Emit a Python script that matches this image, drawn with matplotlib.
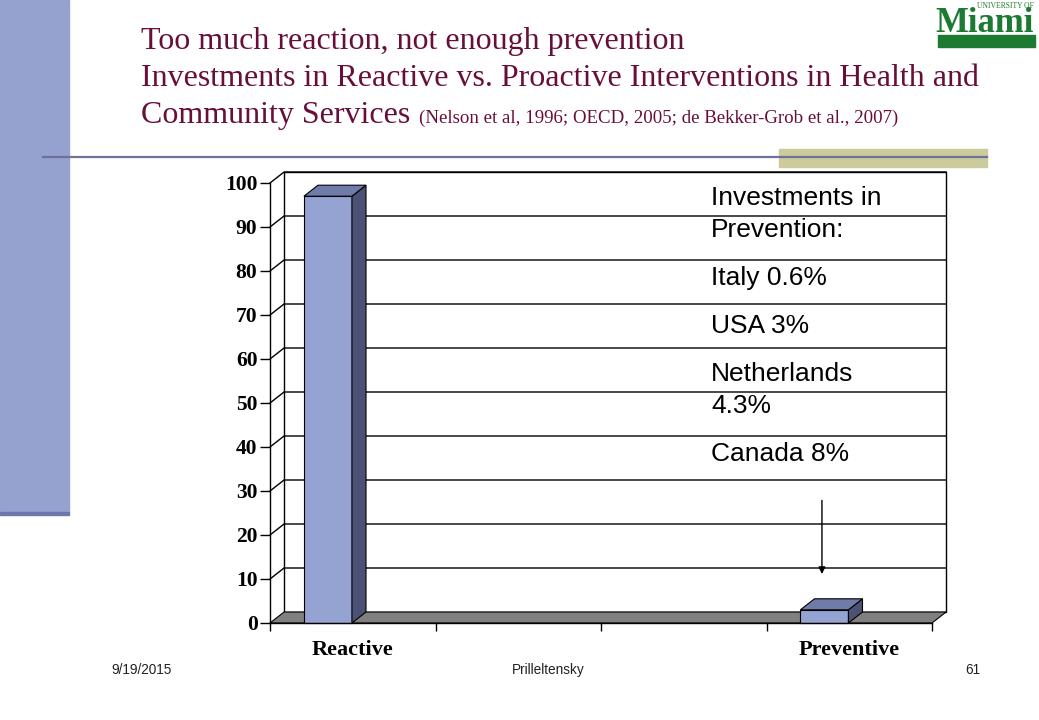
import matplotlib
matplotlib.use('Agg')
import matplotlib.pyplot as plt
from matplotlib.patches import Polygon, Rectangle
from matplotlib.lines import Line2D

# data
categories = ['Reactive', '', '', 'Preventive']
values = [97, None, None, 3]
y_ticks = [0, 10, 20, 30, 40, 50, 60, 70, 80, 90, 100]
notes = ['Investments in\nPrevention:', 'Italy 0.6%', 'USA 3%', 'Netherlands\n4.3%', 'Canada 8%']

title_lines = ['Too much reaction, not enough prevention',
               'Investments in Reactive vs. Proactive Interventions in Health and',
               'Community Services']
citation = '(Nelson et al, 1996; OECD, 2005; de Bekker-Grob et al., 2007)'
footer = ['9/19/2015', 'Prilleltensky', '61']

W, H = 1039, 720


def fx(x):
    return x / W


def fy(y):
    return 1 - y / H


fig = plt.figure(figsize=(W / 100, H / 100), dpi=100)
fig.patch.set_facecolor('white')
serif = 'Liberation Serif'
sans = 'Liberation Sans'

# slide decoration
fig.add_artist(Rectangle((0, fy(512)), fx(69), 512 / H, transform=fig.transFigure,
                         color='#95A2CF', zorder=0))
fig.add_artist(Rectangle((0, fy(515)), fx(69), 3 / H, transform=fig.transFigure,
                         color='#6D78A8', zorder=0))
fig.add_artist(Rectangle((fx(779), fy(167)), fx(987 - 779), 18 / H, transform=fig.transFigure,
                         color='#CBCB9B', zorder=0))
fig.add_artist(Line2D([fx(43), fx(987)], [fy(157), fy(157)], transform=fig.transFigure,
                      color='#6E7299', lw=1.6, zorder=1))

# logo
green = '#1D7A33'
fig.add_artist(Rectangle((fx(938), fy(47)), fx(97), 12 / H, transform=fig.transFigure,
                         color=green))
fig.text(fx(985), fy(32), 'Miami', fontsize=25, family=serif, fontweight='bold',
         color=green, ha='center', va='baseline')
fig.text(fx(1034), fy(8), 'UNIVERSITY OF', fontsize=5.5, family=serif,
         color=green, ha='right', va='baseline')

# title
title_color = '#680E3A'
ys = [49, 86, 123]
last = None
for line, y in zip(title_lines, ys):
    last = fig.text(fx(141), fy(y), line, fontsize=23, family=serif, color=title_color,
                    va='baseline')
renderer = fig.canvas.get_renderer()
bb = last.get_window_extent(renderer)
fig.text(bb.x1 / W + fx(9), fy(123), citation, fontsize=13.6, family=serif,
         color=title_color, va='baseline')

# chart
ax = fig.add_axes([fx(270), fy(623), fx(932 - 270), (623 - 183) / H])
ax.set_xlim(0, len(categories))
ax.set_ylim(0, 100)
ax.patch.set_visible(False)
for s in ['top', 'right']:
    ax.spines[s].set_visible(False)
for s in ['left', 'bottom']:
    ax.spines[s].set_linewidth(1)
    ax.spines[s].set_zorder(5)

dx, dy = 0.085, 2.5
n = len(categories)

# back wall and floor
ax.add_patch(Rectangle((dx, dy), n, 100, facecolor='white', edgecolor='black',
                       lw=1, clip_on=False, zorder=0.5))
ax.add_patch(Polygon([(0, 0), (n, 0), (n + dx, dy), (dx, dy)], closed=True,
                     facecolor='#808080', edgecolor='black', lw=0.8, clip_on=False, zorder=1))
for v in y_ticks[1:]:
    ax.plot([0, dx, n + dx], [v, v + dy, v + dy], color='black', lw=1,
            clip_on=False, zorder=1)

# 3d bars
bw = 0.29
off = 0.205
for i, v in enumerate(values):
    if v is None:
        continue
    x0 = i + off
    ax.add_patch(Rectangle((x0, 0), bw, v, facecolor='#95A3D2', edgecolor='black',
                           lw=0.8, zorder=3, clip_on=False))
    ax.add_patch(Polygon([(x0 + bw, 0), (x0 + bw + dx, dy), (x0 + bw + dx, v + dy), (x0 + bw, v)],
                         closed=True, facecolor='#4B5275', edgecolor='black', lw=0.8,
                         zorder=3, clip_on=False))
    ax.add_patch(Polygon([(x0, v), (x0 + bw, v), (x0 + bw + dx, v + dy), (x0 + dx, v + dy)],
                         closed=True, facecolor='#6F7BA8', edgecolor='black', lw=0.8,
                         zorder=3, clip_on=False))

# arrow pointing at preventive bar
pi = categories.index('Preventive')
bx = pi + off + bw / 2 - 0.015
ax.annotate('', xy=(bx, values[pi] + 7.5), xytext=(bx, values[pi] + 25.5),
            arrowprops=dict(arrowstyle='-|>', color='black', lw=1, mutation_scale=10),
            zorder=4)

ax.set_yticks(y_ticks)
ax.set_yticklabels([str(t) for t in y_ticks], family=serif, fontweight='bold', fontsize=15.5)
ax.tick_params(axis='y', length=7, width=1, pad=2)
ax.set_xticks(range(n + 1))
ax.set_xticklabels([''] * (n + 1))
ax.tick_params(axis='x', which='major', length=6, width=1)
ax.set_xticks([i + 0.5 for i in range(n)], minor=True)
ax.set_xticklabels(categories, minor=True, family=serif, fontweight='bold', fontsize=16)
ax.tick_params(axis='x', which='minor', length=0, pad=12)

# notes text
y = 198
for para in notes:
    for line in para.split('\n'):
        fig.text(fx(711), fy(y), line, fontsize=19, family=sans, va='center')
        y += 32
    y += 16

# footer
fig.text(fx(142), fy(670), footer[0], fontsize=9.8, family=sans, ha='center', va='center',
         color='#222222')
fig.text(fx(548), fy(670), footer[1], fontsize=9.8, family=sans, ha='center', va='center',
         color='#222222')
fig.text(fx(973), fy(670), footer[2], fontsize=9.8, family=sans, ha='center', va='center',
         color='#222222')

fig.savefig('out.png', dpi=100)
